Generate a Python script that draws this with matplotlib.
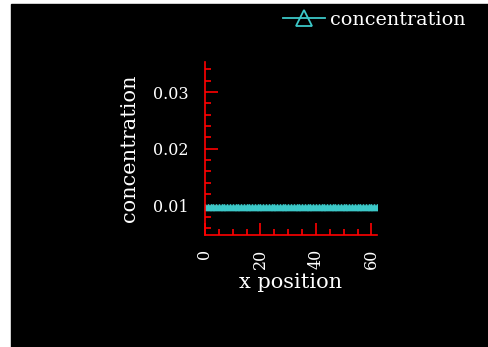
import numpy as np
import matplotlib.pyplot as plt
from matplotlib.patches import Rectangle
from matplotlib.ticker import MultipleLocator

# data: flat profile over 64 grid points
x_position = list(range(64))
concentration = [0.0098] * 64
x_ticks = [0, 20, 40, 60]
y_ticks = [0.01, 0.02, 0.03]

fig = plt.figure(figsize=(4.89, 3.47), dpi=100, facecolor='white')
# black plotting area with thin white margin at left/top
fig.patches.append(Rectangle((11 / 489, 0), 1, (347 - 4) / 347,
                             transform=fig.transFigure, color='black', zorder=-1))

ax = fig.add_axes([205 / 489, (347 - 235) / 347, (377 - 205) / 489, (235 - 62) / 347])
ax.set_facecolor('black')

cyan = '#3cc8c8'
font = 'DejaVu Serif'

ax.plot(x_position, concentration, color=cyan, lw=2.5, marker='^', ms=4.5,
        mfc=cyan, mec=cyan, mew=1, label='concentration')

ax.set_xlim(0, 62)
ax.set_ylim(0.0048, 0.0353)
ax.set_xticks(x_ticks)
ax.set_yticks(y_ticks)
ax.xaxis.set_minor_locator(MultipleLocator(5))
ax.yaxis.set_minor_locator(MultipleLocator(0.002))

for side in ['top', 'right']:
    ax.spines[side].set_visible(False)
for side in ['left', 'bottom']:
    ax.spines[side].set_color('red')
    ax.spines[side].set_linewidth(1.2)

ax.tick_params(which='both', direction='in', color='red', labelcolor='white')
ax.tick_params(which='major', length=9, width=1.2)
ax.tick_params(which='minor', length=4, width=1.2)
ax.tick_params(axis='y', pad=12)
ax.tick_params(axis='x', labelrotation=90, pad=10)
for lab in ax.get_xticklabels() + ax.get_yticklabels():
    lab.set_family(font)
    lab.set_fontsize(11.5)

ax.set_xlabel('x position', color='white', family=font, fontsize=15, labelpad=3)
ax.set_ylabel('concentration', color='white', family=font, fontsize=15, labelpad=10)

leg = ax.legend(loc='upper right', bbox_to_anchor=(1 - 20 / 489, 1 - 7 / 347),
                bbox_transform=fig.transFigure, frameon=False,
                handlelength=2.2, handletextpad=0.25, borderpad=0.2,
                borderaxespad=0, prop={'family': font, 'size': 13.8})
h = leg.legend_handles[0]
h.set_markersize(11)
h.set_markerfacecolor('none')
h.set_markeredgewidth(1.3)
h.set_linewidth(1.3)
for t in leg.get_texts():
    t.set_color('white')

fig.savefig('out.png', dpi=100, facecolor='white')
